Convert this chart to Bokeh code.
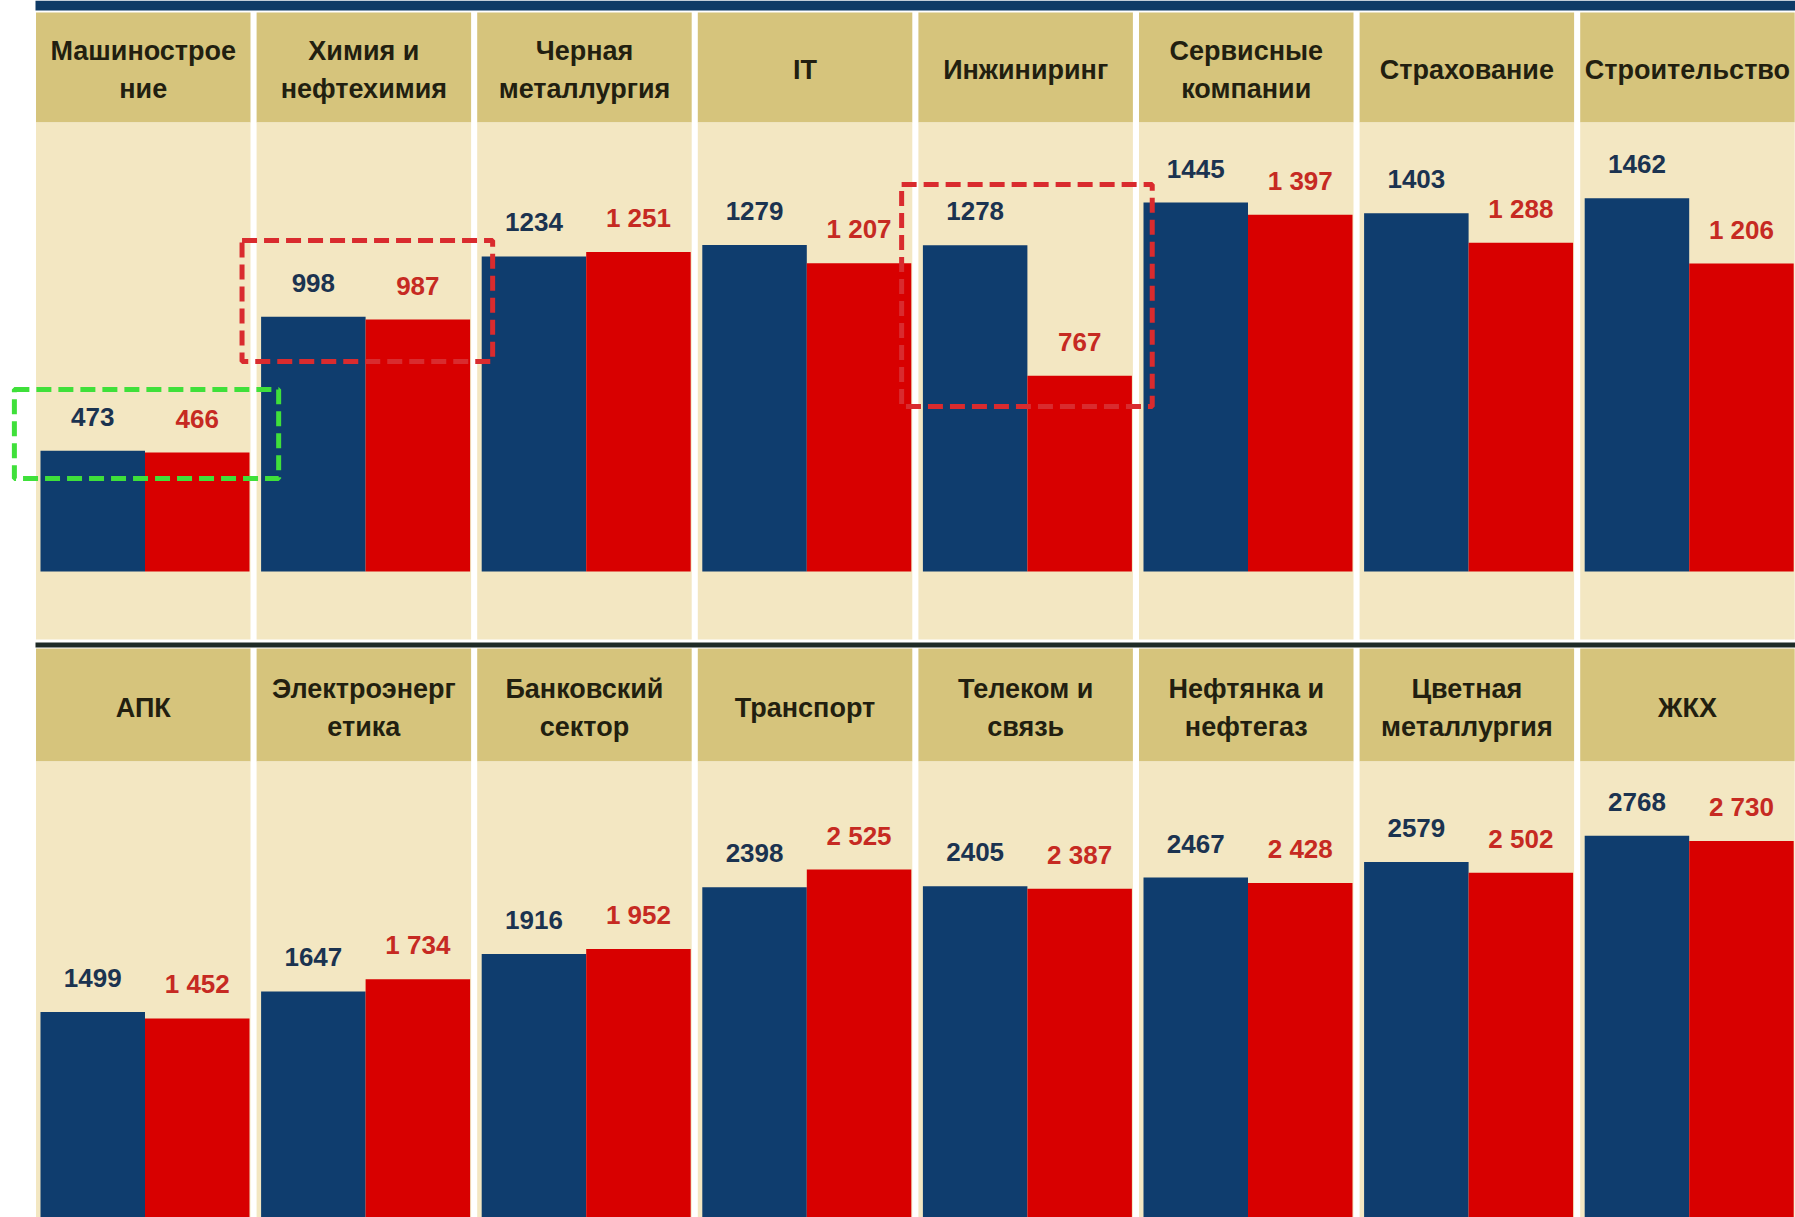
from bokeh.plotting import figure
from bokeh.models import Range1d, ColumnDataSource
from bokeh.embed import file_html
from bokeh.resources import INLINE
from bokeh.core.properties import value

# ---------------- data ----------------
top_categories = ["Машинострое\nние", "Химия и\nнефтехимия", "Черная\nметаллургия", "IT",
                  "Инжиниринг", "Сервисные\nкомпании", "Страхование", "Строительство"]
top_navy = [473, 998, 1234, 1279, 1278, 1445, 1403, 1462]
top_red = [466, 987, 1251, 1207, 767, 1397, 1288, 1206]

bottom_categories = ["АПК", "Электроэнерг\nетика", "Банковский\nсектор", "Транспорт",
                     "Телеком и\nсвязь", "Нефтянка и\nнефтегаз", "Цветная\nметаллургия", "ЖКХ"]
bottom_navy = [1499, 1647, 1916, 2398, 2405, 2467, 2579, 2768]
bottom_red = [1452, 1734, 1952, 2525, 2387, 2428, 2502, 2730]

# highlighted groups (column index, value span of the dashed frame)
highlight_cols = [0, 1, 4]
highlight_low = [364, 823, 646]
highlight_high = [713, 1297, 1516]
highlight_colors = ["#3FE03A", "#D92B2E", "#D92B2E"]

# ---------------- layout constants (reference pixel space) ----------------
REF_W, REF_H = 1795, 1217
COL0, PITCH, CELL_W = 35.5, 220.6, 214.5
TOP_BASE, TOP_SCALE = 571.0, 0.2553
BOT_BASE, BOT_SCALE = 1219.5, 0.1388

NAVY = "#0F3D6E"
RED = "#D80000"
HEADER = "#D6C47C"
BODY = "#F3E7C2"
NAVY_TXT = "#1B3350"
RED_TXT = "#C62A22"
HEAD_TXT = "#221F10"

p = figure(width=REF_W, height=REF_H, x_range=Range1d(0, REF_W), y_range=Range1d(REF_H, 0),
           output_backend="svg", toolbar_location=None, min_border=0,
           x_axis_location=None, y_axis_location=None)
p.grid.visible = False
p.outline_line_color = None
p.background_fill_color = "white"
p.border_fill_color = "white"

p.extra_x_ranges = {"col": Range1d((0 - COL0) / PITCH, (REF_W - COL0) / PITCH)}
p.extra_y_ranges = {
    "top": Range1d((TOP_BASE - REF_H) / TOP_SCALE, TOP_BASE / TOP_SCALE),
    "bot": Range1d((BOT_BASE - REF_H) / BOT_SCALE, BOT_BASE / BOT_SCALE),
}

n = len(top_categories)
lefts = [COL0 + PITCH * i for i in range(n)]
rights = [l + CELL_W for l in lefts]

# top navy band
p.quad(left=[35], right=[REF_W], top=[0], bottom=[10], fill_color="#0E3A66", line_color=None)
# header cells + bodies
for (t, b, col) in [(12, 122, HEADER), (122, 639, BODY), (648, 761, HEADER), (761, REF_H, BODY)]:
    p.quad(left=lefts, right=rights, top=[t] * n, bottom=[b] * n, fill_color=col, line_color=None)
# separator between panels
p.quad(left=[35], right=[REF_W], top=[642], bottom=[647], fill_color="#1E2A26", line_color=None)

NAVY_OFF, RED_OFF, BAR_W = 56.75 / PITCH, 161.25 / PITCH, 104.5 / PITCH
LABEL_OFF = 107.25 / PITCH


def panel(cats, navy, red, yname, head_center):
    idx = list(range(len(cats)))
    src = ColumnDataSource(dict(
        xn=[i + NAVY_OFF for i in idx], xr=[i + RED_OFF for i in idx],
        navy=navy, red=red,
        tn=[str(v) for v in navy],
        tr=[f"{v:,}".replace(",", " ") for v in red],
    ))
    p.vbar(x="xn", top="navy", bottom=0, width=BAR_W, source=src, fill_color=NAVY,
           line_color=None, x_range_name="col", y_range_name=yname)
    p.vbar(x="xr", top="red", bottom=0, width=BAR_W, source=src, fill_color=RED,
           line_color=None, x_range_name="col", y_range_name=yname)
    common = dict(text_align="center", text_baseline="middle", text_font=value("Liberation Sans"),
                  text_font_style="bold", text_font_size="26px", y_offset=-34,
                  x_range_name="col", y_range_name=yname, source=src)
    p.text(x="xn", y="navy", text="tn", text_color=NAVY_TXT, **common)
    p.text(x="xr", y="red", text="tr", text_color=RED_TXT, **common)
    # header labels (one glyph per line)
    hx, hy, ht = [], [], []
    for i, c in enumerate(cats):
        lines = c.split("\n")
        k = len(lines)
        for j, line in enumerate(lines):
            hx.append(i + LABEL_OFF)
            hy.append(head_center + (j - (k - 1) / 2) * 38)
            ht.append(line)
    p.text(x=hx, y=hy, text=ht, text_align="center", text_baseline="middle",
           text_font=value("Liberation Sans"), text_font_style="bold", text_font_size="27px",
           text_color=HEAD_TXT, x_range_name="col")


panel(top_categories, top_navy, top_red, "top", 69)
panel(bottom_categories, bottom_navy, bottom_red, "bot", 707)

# dashed highlight frames
hl_x0 = [-0.098, -0.066, -0.076]
hl_x1 = [1.10, 1.07, 1.06]
p.quad(left=[c + a for c, a in zip(highlight_cols, hl_x0)],
       right=[c + b for c, b in zip(highlight_cols, hl_x1)],
       bottom=highlight_low, top=highlight_high,
       fill_color=None, line_color=highlight_colors, line_width=5, line_dash="15 7",
       x_range_name="col", y_range_name="top")

open("out.html", "w").write(file_html(p, INLINE))
